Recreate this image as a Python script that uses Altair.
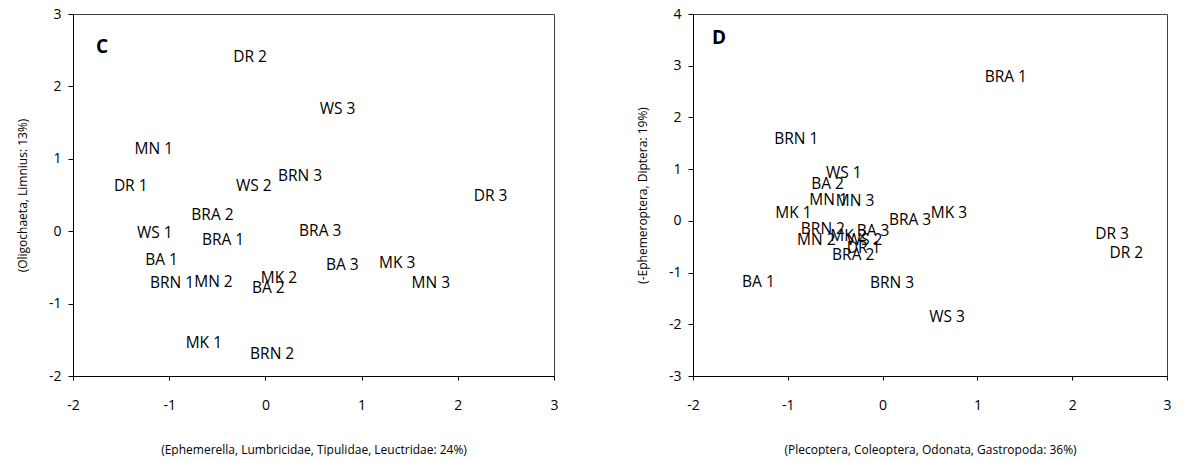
import altair as alt
import pandas as pd

FONT = "Open Sans"

# ---- Panel C data ----
c_labels = ["DR 2", "WS 3", "MN 1", "DR 1", "WS 2", "BRN 3", "DR 3", "BRA 2", "WS 1", "BRA 1",
            "BRA 3", "BA 1", "BA 3", "MK 3", "MN 3", "BRN 1", "MN 2", "MK 2", "BA 2", "MK 1", "BRN 2"]
c_x = [-0.16, 0.75, -1.16, -1.40, -0.12, 0.36, 2.34, -0.55, -1.15, -0.44,
       0.57, -1.08, 0.80, 1.37, 1.72, -0.97, -0.54, 0.14, 0.03, -0.64, 0.07]
c_y = [2.40, 1.69, 1.13, 0.63, 0.63, 0.76, 0.48, 0.22, -0.02, -0.12,
       0.00, -0.40, -0.47, -0.44, -0.72, -0.71, -0.70, -0.64, -0.78, -1.54, -1.69]

# ---- Panel D data ----
d_labels = ["BRA 1", "BRN 1", "WS 1", "BA 2", "MN 1", "MN 3", "MK 1", "BRA 3", "MK 3", "BRN 2",
            "MN 2", "BA 3", "MK 2", "WS 2", "DR 1", "BRA 2", "BA 1", "BRN 3", "WS 3", "DR 3", "DR 2"]
d_x = [1.30, -0.91, -0.41, -0.58, -0.57, -0.29, -0.94, 0.29, 0.70, -0.63,
       -0.70, -0.10, -0.36, -0.19, -0.20, -0.31, -1.31, 0.10, 0.68, 2.42, 2.57]
d_y = [2.78, 1.59, 0.93, 0.72, 0.40, 0.38, 0.16, 0.01, 0.15, -0.15,
       -0.37, -0.20, -0.29, -0.37, -0.52, -0.66, -1.18, -1.21, -1.85, -0.26, -0.63]

x_ticks = [-2, -1, 0, 1, 2, 3]
c_y_ticks = [-2, -1, 0, 1, 2, 3]
d_y_ticks = [-3, -2, -1, 0, 1, 2, 3, 4]

c_xtitle = "(Ephemerella, Lumbricidae, Tipulidae, Leuctridae: 24%)"
c_ytitle = "(Oligochaeta, Limnius: 13%)"
d_xtitle = "(Plecoptera, Coleoptera, Odonata, Gastropoda: 36%)"
d_ytitle = "(-Ephemeroptera, Diptera: 19%)"


def axis(title, values, orient):
    common = dict(title=title, values=values, grid=False, labelFlush=False, labelOverlap=False,
                  domainColor="black", tickColor="black", labelColor="black", titleColor="black",
                  labelFont=FONT, labelFontSize=14, titleFont=FONT, titleFontSize=12,
                  titleFontWeight="normal", labelExpr="'' + datum.value")
    if orient == "x":
        return alt.Axis(tickSize=4, labelPadding=18, titlePadding=32, **common)
    return alt.Axis(tickSize=5, labelPadding=7, titlePadding=19, **common)


def panel(labels, xs, ys, ydom, yticks, w, h, xtitle, ytitle, letter, lx, ly):
    df = pd.DataFrame({"label": labels, "x": xs, "y": ys})
    pts = alt.Chart(df).mark_text(font=FONT, fontSize=15.5, color="black",
                                  align="center", baseline="middle").encode(
        x=alt.X("x:Q", scale=alt.Scale(domain=[-2, 3], nice=False, zero=False),
                axis=axis(xtitle, x_ticks, "x")),
        y=alt.Y("y:Q", scale=alt.Scale(domain=ydom, nice=False, zero=False),
                axis=axis(ytitle, yticks, "y")),
        text="label:N",
    )
    let = alt.Chart(pd.DataFrame({"t": [letter]})).mark_text(
        font=FONT, fontSize=19, fontWeight="bold", color="black",
        align="center", baseline="middle").encode(
        x=alt.value(lx), y=alt.value(ly), text="t:N")
    return alt.layer(pts, let).properties(width=w, height=h)


c = panel(c_labels, c_x, c_y, [-2, 3], c_y_ticks, 481, 362, c_xtitle, c_ytitle, "C", 29, 33)
d = panel(d_labels, d_x, d_y, [-3, 4], d_y_ticks, 474, 362, d_xtitle, d_ytitle, "D", 26, 24)

chart = alt.hconcat(c, d, spacing=76).properties(
    padding={"left": 15, "top": 6, "right": 0, "bottom": 0},
    background="white",
).configure_view(stroke="#404040", strokeWidth=1)

chart.save("out.html", embed_options={"renderer": "svg", "actions": False})
